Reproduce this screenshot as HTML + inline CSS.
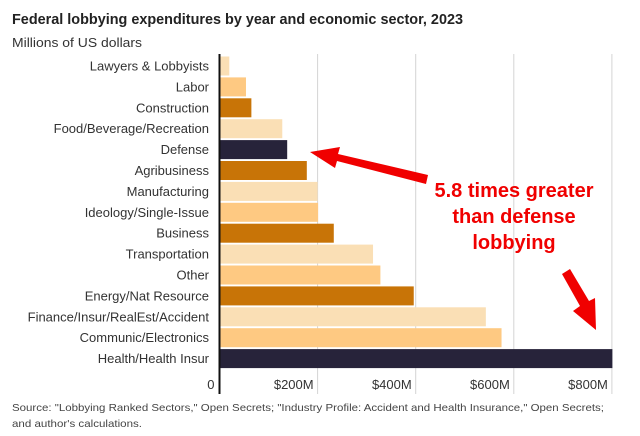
<!DOCTYPE html>
<html><head><meta charset="utf-8"><style>
body{margin:0;background:#fff;}
svg{display:block;font-family:"Liberation Sans",sans-serif;}
</style></head><body>
<svg id="chart" width="640" height="436">
<text x="12" y="24" font-size="15" font-weight="bold" fill="#222" textLength="451" lengthAdjust="spacingAndGlyphs">Federal lobbying expenditures by year and economic sector, 2023</text>
<text x="12" y="47" font-size="13" fill="#333" textLength="130" lengthAdjust="spacingAndGlyphs">Millions of US dollars</text>
<g id="grid"></g><g id="bars"></g><g id="labels"></g><g id="ticks"></g>
<line x1="219.5" y1="54" x2="219.5" y2="394" stroke="#111" stroke-width="2"/>
<text x="12" y="411" font-size="10.5" fill="#444" textLength="592" lengthAdjust="spacingAndGlyphs">Source: "Lobbying Ranked Sectors," Open Secrets; "Industry Profile: Accident and Health Insurance," Open Secrets;</text>
<text x="12" y="427" font-size="10.5" fill="#444" textLength="130" lengthAdjust="spacingAndGlyphs">and author's calculations.</text>
<g fill="#f00000">
<polygon points="428,175 338,154 340,147 310,152 335,168 337,161 426,184"/>
<polygon points="562,274 570,269 589,301 595,298 596,330 573,311 580,306"/>
<text x="514" y="197" font-size="20" font-weight="bold" text-anchor="middle">5.8 times greater</text>
<text x="514" y="223" font-size="20" font-weight="bold" text-anchor="middle">than defense</text>
<text x="514" y="249" font-size="20" font-weight="bold" text-anchor="middle">lobbying</text>
</g>
</svg>
<script>
const categories=["Lawyers & Lobbyists","Labor","Construction","Food/Beverage/Recreation","Defense","Agribusiness","Manufacturing","Ideology/Single-Issue","Business","Transportation","Other","Energy/Nat Resource","Finance/Insur/RealEst/Accident","Communic/Electronics","Health/Health Insur"];
const values=[20,54,65,128,138,178,200,201,233,313,328,396,543,575,801];
const colorKeys=["l","m","d","l","n","d","l","m","d","l","m","d","l","m","n"];
const tickValues=[0,200,400,600,800];
const tickLabels=["0","$200M","$400M","$600M","$800M"];
const palette={l:"#fadfb5",m:"#fec982",d:"#c87407",n:"#27233a"};
const NS="http://www.w3.org/2000/svg";
const x=v=>219.5+v*0.4905;
const y=i=>56+i*20.9;
function mk(t,a,p){const e=document.createElementNS(NS,t);for(const k in a)e.setAttribute(k,a[k]);p.appendChild(e);return e;}
const g=document.getElementById("grid"),b=document.getElementById("bars"),lb=document.getElementById("labels"),tk=document.getElementById("ticks");
tickValues.forEach((v,i)=>{
 if(v>0){const l=mk("line",{x1:x(v),x2:x(v),y1:54,y2:394,stroke:"#d4d4d4","stroke-width":1},g);
 
 }
 const t=mk("text",{x:x(v)-(v>0?4:5),y:389,"font-size":13,"text-anchor":"end",fill:"#333"},tk);
 t.textContent=tickLabels[i];
 
 
});
categories.forEach((c,i)=>{
 const r=mk("rect",{x:220.5,y:y(i)+0.5,width:Math.max(0,x(values[i])-220.5),height:19,fill:palette[colorKeys[i]]},b);
 
 
 const t=mk("text",{x:209,y:y(i)+14.5,"font-size":13,"text-anchor":"end",fill:"#333"},lb);
 t.textContent=c;
 
 
});
</script>
</body></html>
